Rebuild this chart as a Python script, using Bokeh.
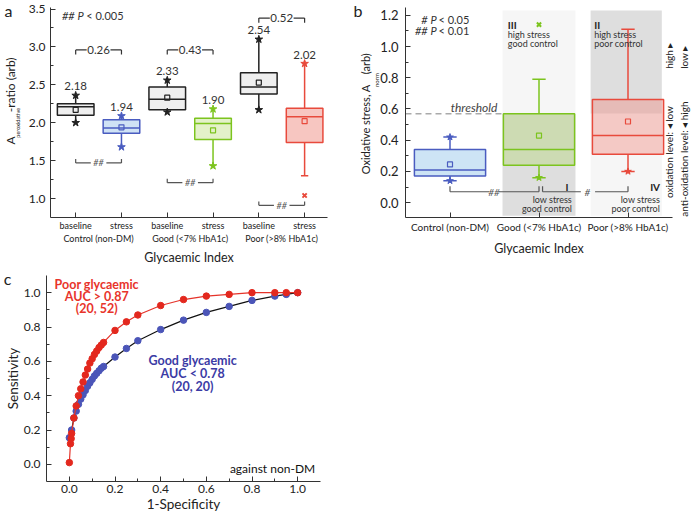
import math
from bokeh.plotting import figure
from bokeh.models import Range1d, LinearAxis, FixedTicker, PrintfTickFormatter
from bokeh.layouts import column, row
from bokeh.embed import file_html
from bokeh.resources import INLINE
from bokeh.core.properties import value

FONT = "Lato"
TXT = "#222222"
AX = "#333333"

# ---------------- panel a data ----------------
a_groups = ["Control (non-DM)", "Good (<7% HbA1c)", "Poor (>8% HbA1c)"]
a_conditions = ["baseline", "stress", "baseline", "stress", "baseline", "stress"]
a_q1 = [2.10, 1.86, 2.17, 1.78, 2.38, 1.74]
a_median = [2.21, 1.93, 2.31, 1.99, 2.47, 2.08]
a_q3 = [2.25, 2.04, 2.47, 2.06, 2.66, 2.19]
a_mean = [2.17, 1.94, 2.33, 1.90, 2.53, 2.02]
a_low = [2.00, 1.68, 2.14, 1.43, 2.17, 1.30]
a_high = [2.36, 2.09, 2.56, 2.18, 3.10, 2.78]
a_mean_labels = ["2.18", "1.94", "2.33", "1.90", "2.54", "2.02"]
a_outlier_box = [6]
a_outlier_val = [1.04]
a_pvalues = ["0.26", "0.43", "0.52"]
a_pvalue_y = [2.96, 2.96, 3.38]
a_sig_y = [1.47, 1.21, 0.91]
a_yticks = [1.0, 1.5, 2.0, 2.5, 3.0, 3.5]

# ---------------- panel b data ----------------
b_groups = ["Control (non-DM)", "Good (<7% HbA1c)", "Poor (>8% HbA1c)"]
b_q1 = [0.17, 0.24, 0.31]
b_median = [0.21, 0.34, 0.43]
b_q3 = [0.34, 0.57, 0.66]
b_mean = [0.245, 0.43, 0.52]
b_low = [0.14, 0.16, 0.20]
b_high = [0.42, 0.79, 1.11]
b_outlier_box = [2]
b_outlier_val = [1.14]
b_threshold = 0.57
b_yticks = [0.0, 0.2, 0.4, 0.6, 0.8, 1.0, 1.2]

# ---------------- panel c data ----------------
roc_fpr_poor = [0.0, 0.005, 0.008, 0.01, 0.02, 0.03, 0.04, 0.05, 0.06, 0.07, 0.08, 0.09, 0.10,
                0.11, 0.12, 0.13, 0.14, 0.15, 0.2, 0.25, 0.3, 0.4, 0.5, 0.6, 0.7, 0.8, 0.9, 0.95, 1.0]
roc_tpr_poor = [0.01, 0.12, 0.15, 0.18, 0.27, 0.34, 0.40, 0.44, 0.48, 0.52, 0.555, 0.59, 0.615,
                0.64, 0.66, 0.68, 0.695, 0.71, 0.78, 0.83, 0.87, 0.925, 0.96, 0.98, 0.99, 1.0, 1.0, 1.0, 1.0]
roc_fpr_good = [0.0, 0.01, 0.02, 0.03, 0.04, 0.05, 0.06, 0.07, 0.08, 0.09, 0.10, 0.11, 0.12, 0.13,
                0.14, 0.15, 0.2, 0.25, 0.3, 0.4, 0.5, 0.6, 0.7, 0.8, 0.9, 0.95, 1.0]
roc_tpr_good = [0.155, 0.20, 0.27, 0.31, 0.35, 0.38, 0.405, 0.43, 0.455, 0.475, 0.495, 0.515, 0.53,
                0.545, 0.56, 0.57, 0.625, 0.675, 0.72, 0.785, 0.84, 0.885, 0.92, 0.955, 0.98, 0.99, 1.0]
c_ticks = [0.0, 0.2, 0.4, 0.6, 0.8, 1.0]


def style_axis(ax, size="12px"):
    ax.axis_line_color = AX
    ax.axis_line_width = 1
    ax.major_tick_in = 5
    ax.major_tick_out = 0
    ax.minor_tick_in = 3
    ax.minor_tick_out = 0
    ax.major_tick_line_color = AX
    ax.minor_tick_line_color = AX
    ax.major_label_text_font = FONT
    ax.major_label_text_font_size = size
    ax.major_label_text_color = TXT
    ax.axis_label_text_font = FONT
    ax.axis_label_text_font_style = "normal"
    ax.axis_label_text_font_size = "12.5px"
    ax.axis_label_text_color = TXT


def text_axis(p, side, ticks, labels, size, standoff, orientation, style="normal", color=TXT):
    """An axis used only to carry text outside the frame (no line, no ticks)."""
    ax = LinearAxis(ticker=FixedTicker(ticks=ticks, minor_ticks=[]),
                    major_label_overrides={t: s for t, s in zip(ticks, labels)})
    ax.axis_line_color = None
    ax.major_tick_line_color = None
    ax.minor_tick_line_color = None
    ax.major_tick_in = 0
    ax.major_tick_out = 0
    ax.minor_tick_in = 0
    ax.minor_tick_out = 0
    ax.major_label_text_font = FONT
    ax.major_label_text_font_size = size
    ax.major_label_text_font_style = style
    ax.major_label_text_color = color
    ax.major_label_standoff = standoff
    ax.major_label_orientation = orientation
    p.add_layout(ax, side)
    return ax


def base_fig(**kw):
    p = figure(output_backend="svg", toolbar_location=None, **kw)
    p.outline_line_color = None
    p.xgrid.visible = False
    p.ygrid.visible = False
    p.background_fill_color = "white"
    p.border_fill_color = "white"
    return p


def txt(p, x, y, s, size="11px", color=TXT, align="left", baseline="middle", style="normal"):
    p.text(x=[x], y=[y], text=[s], text_font=value(FONT), text_font_size=size, text_color=color,
           text_align=align, text_baseline=baseline, text_font_style=style)


def minor_between(ticks):
    return [(ticks[i] + ticks[i + 1]) / 2 for i in range(len(ticks) - 1)]


TOP_H = 267

# =============== panel a ===============
pa = base_fig(width=350, height=TOP_H, x_range=Range1d(0.45, 6.5), y_range=Range1d(0.75, 3.52),
              x_axis_type=None, min_border_left=40, min_border_right=23, min_border_top=7,
              min_border_bottom=0)
style_axis(pa.yaxis[0], "12px")
pa.yaxis[0].ticker = FixedTicker(ticks=a_yticks, minor_ticks=minor_between(a_yticks))
pa.yaxis[0].formatter = PrintfTickFormatter(format="%.1f")
pa.yaxis[0].major_label_standoff = 5

a_pos = list(range(1, len(a_conditions) + 1))
ax1 = LinearAxis(ticker=FixedTicker(ticks=a_pos, minor_ticks=[]),
                 major_label_overrides={i: c for i, c in zip(a_pos, a_conditions)})
style_axis(ax1, "9px")
ax1.major_label_standoff = 2
pa.add_layout(ax1, "below")
g_pos = [1.5, 3.5, 5.5]
ax2 = LinearAxis(ticker=FixedTicker(ticks=g_pos, minor_ticks=[]),
                 major_label_overrides={g: n for g, n in zip(g_pos, a_groups)},
                 axis_label="Glycaemic Index")
style_axis(ax2, "9px")
ax2.axis_line_color = None
ax2.major_tick_line_color = None
ax2.minor_tick_line_color = None
ax2.major_label_standoff = -1
ax2.axis_label_standoff = 3
pa.add_layout(ax2, "below")

text_axis(pa, "left", [2.0], ["peroxidative"], "5.5px", 4, "vertical")
text_axis(pa, "left", [1.767, 2.5], ["A", "-ratio (arb)"], "12px", -6, "vertical")
text_axis(pa, "left", [3.5], ["a"], "16px", -12, "horizontal")

a_edge = ["#222222", "#4a5cc0", "#222222", "#7cc41e", "#222222", "#e84a3c"]
a_fill = ["#efefef", "#cfe2f5", "#efefef", "#e3f1c9", "#efefef", "#f7c6c1"]
hw = 0.4
pa.segment(x0=a_pos, y0=a_q3, x1=a_pos, y1=a_high, line_color=a_edge, line_width=1.5)
pa.segment(x0=a_pos, y0=a_low, x1=a_pos, y1=a_q1, line_color=a_edge, line_width=1.5)
pa.quad(left=[x - hw for x in a_pos], right=[x + hw for x in a_pos], bottom=a_q1, top=a_q3,
        fill_color=a_fill, line_color=a_edge, line_width=1.5)
pa.segment(x0=[x - hw for x in a_pos], y0=a_median, x1=[x + hw for x in a_pos], y1=a_median,
           line_color=a_edge, line_width=1.5)
pa.scatter(a_pos, a_mean, marker="square", size=5, fill_color=None, line_color=a_edge, line_width=1.2)
pa.scatter(a_pos, a_high, marker="star", size=8, fill_color=a_edge, line_color=a_edge)
pa.scatter(a_pos[:-1], a_low[:-1], marker="star", size=8, fill_color=a_edge[:-1], line_color=a_edge[:-1])
pa.segment(x0=[a_pos[-1] - 0.08], y0=[a_low[-1]], x1=[a_pos[-1] + 0.08], y1=[a_low[-1]],
           line_color=a_edge[-1], line_width=1.5)
pa.scatter(a_outlier_box, a_outlier_val, marker="x", size=6, line_color=a_edge[-1], line_width=2)
pa.text(x=a_pos, y=a_high, text=a_mean_labels, text_font=value(FONT), text_font_size="11.5px",
        text_color="#333333", text_align="center", text_baseline="middle", y_offset=-9)

for k in range(3):
    x0, x1 = 2 * k + 1, 2 * k + 2
    xm = (x0 + x1) / 2
    y = a_pvalue_y[k]
    g = 0.26
    pa.segment(x0=[x0, xm + g, x0, x1], y0=[y, y, y, y], x1=[xm - g, x1, x0, x1],
               y1=[y, y, y - 0.06, y - 0.06], line_color="#333333", line_width=1.2)
    txt(pa, xm, y, a_pvalues[k], size="11.5px", color="#333333", align="center")
    ys = a_sig_y[k]
    g2 = 0.17
    pa.segment(x0=[x0, xm + g2, x0, x1], y0=[ys, ys, ys, ys], x1=[xm - g2, x1, x0, x1],
               y1=[ys, ys, ys + 0.05, ys + 0.05], line_color="#555555", line_width=1.2)
    txt(pa, xm, ys, "##", size="9px", color="#555555", align="center", style="italic")

txt(pa, 0.70, 3.416, "##", size="11px", color="#333333", style="italic")
txt(pa, 1.04, 3.416, "P", size="11px", color="#333333", style="italic")
txt(pa, 1.23, 3.416, "< 0.005", size="11px", color="#333333")

# =============== panel b ===============
pb = base_fig(width=349, height=TOP_H, x_range=Range1d(0.5, 3.5), y_range=Range1d(-0.095, 1.25),
              x_axis_type=None, min_border_left=42, min_border_right=0, min_border_top=5,
              min_border_bottom=0)
style_axis(pb.yaxis[0], "13px")
pb.yaxis[0].ticker = FixedTicker(ticks=b_yticks, minor_ticks=minor_between(b_yticks))
pb.yaxis[0].formatter = PrintfTickFormatter(format="%.1f")
pb.yaxis[0].major_label_standoff = 7
b_pos = [1, 2, 3]
bx = LinearAxis(ticker=FixedTicker(ticks=b_pos, minor_ticks=[]),
                major_label_overrides={i: n for i, n in zip(b_pos, b_groups)},
                axis_label="Glycaemic Index")
style_axis(bx, "10px")
bx.major_label_standoff = 3
bx.axis_label_standoff = 5
pb.add_layout(bx, "below")

text_axis(pb, "left", [0.785], ["norm"], "6px", -3, "vertical")
text_axis(pb, "left", [0.47, 0.89], ["Oxidative stress, A", "(arb)"], "11px", -2, "vertical")
text_axis(pb, "left", [1.23], ["b"], "16px", -6, "horizontal")
text_axis(pb, "right", [0.03, 0.857], ["oxidation level: \u25c2 low", "high \u25b8"], "10px", -3,
          math.pi / 2)
text_axis(pb, "right", [-0.09, 0.857], ["anti-oxidation level: \u25c2 high", "low \u25b8"], "10px", 0,
          math.pi / 2)

light, dark = "#f6f6f6", "#dedede"
rtop, rbot = 1.23, -0.083
pb.quad(left=[1.59, 1.59, 2.58, 2.58], right=[2.41, 2.41, 3.38, 3.38],
        bottom=[b_threshold, rbot, b_threshold, rbot], top=[rtop, b_threshold, rtop, b_threshold],
        fill_color=[light, dark, dark, light], line_color=None)
pb.segment(x0=[0.5], y0=[b_threshold], x1=[1.59], y1=[b_threshold], line_color="#aaaaaa",
           line_width=1.5, line_dash="6 4")
txt(pb, 1.27, b_threshold + 0.04, "threshold", size="12px", color="#444444", align="center",
    style="italic")

b_edge = ["#4a5cc0", "#7cc41e", "#e84a3c"]
b_fill = ["#cde4f5", "#a9d35c", "#f08a80"]
b_alpha = [1.0, 0.33, 0.42]
pb.segment(x0=b_pos, y0=b_q3, x1=b_pos, y1=b_high, line_color=b_edge, line_width=1.5)
pb.segment(x0=b_pos, y0=b_low, x1=b_pos, y1=b_q1, line_color=b_edge, line_width=1.5)
pb.quad(left=[x - hw for x in b_pos], right=[x + hw for x in b_pos], bottom=b_q1, top=b_q3,
        fill_color=b_fill, fill_alpha=b_alpha, line_color=b_edge, line_width=1.5)
pb.segment(x0=[x - hw for x in b_pos], y0=b_median, x1=[x + hw for x in b_pos], y1=b_median,
           line_color=b_edge, line_width=1.5)
pb.scatter(b_pos, b_mean, marker="square", size=5, fill_color=None, line_color=b_edge, line_width=1.2)
cw = 0.075
pb.segment(x0=[x - cw for x in b_pos] * 2, y0=b_high + b_low, x1=[x + cw for x in b_pos] * 2,
           y1=b_high + b_low, line_color=b_edge * 2, line_width=1.5)
pb.scatter([1, 1, 2, 3], [b_high[0], b_low[0], b_low[1], b_low[2]], marker="star", size=7,
           fill_color=[b_edge[0], b_edge[0], b_edge[1], b_edge[2]],
           line_color=[b_edge[0], b_edge[0], b_edge[1], b_edge[2]])
pb.scatter(b_outlier_box, b_outlier_val, marker="x", size=6, line_color=b_edge[1], line_width=2)

ys = 0.07
pb.segment(x0=[1.0, 1.55, 1.0, 2.0], y0=[ys] * 4, x1=[1.44, 2.0, 1.0, 2.0],
           y1=[ys, ys, ys + 0.035, ys + 0.035], line_color="#555555", line_width=1.2)
txt(pb, 1.495, ys, "##", size="10px", color="#555555", align="center", style="italic")
pb.segment(x0=[2.04, 2.63, 2.04, 3.0], y0=[ys] * 4, x1=[2.47, 3.0, 2.04, 3.0],
           y1=[ys, ys, ys + 0.035, ys + 0.035], line_color="#555555", line_width=1.2)
txt(pb, 2.545, ys, "#", size="10px", color="#555555", align="center", style="italic")

txt(pb, 1.65, 1.14, "III", size="10px", color="#222222", style="bold")
txt(pb, 1.65, 1.08, "high stress", size="9px", color="#333333")
txt(pb, 1.65, 1.02, "good control", size="9px", color="#333333")
txt(pb, 2.62, 1.14, "II", size="10px", color="#222222", style="bold")
txt(pb, 2.62, 1.08, "high stress", size="9px", color="#333333")
txt(pb, 2.62, 1.02, "poor control", size="9px", color="#333333")
txt(pb, 2.33, 0.10, "I", size="10px", color="#222222", align="right", style="bold")
txt(pb, 2.37, 0.02, "low stress", size="9px", color="#333333", align="right")
txt(pb, 2.37, -0.04, "good control", size="9px", color="#333333", align="right")
txt(pb, 3.36, 0.10, "IV", size="10px", color="#222222", align="right", style="bold")
txt(pb, 3.36, 0.02, "low stress", size="9px", color="#333333", align="right")
txt(pb, 3.36, -0.04, "poor control", size="9px", color="#333333", align="right")

txt(pb, 0.75, 1.17, "#", size="11px", color="#333333", align="right", style="italic")
txt(pb, 0.78, 1.17, "P", size="11px", color="#333333", style="italic")
txt(pb, 0.87, 1.17, "< 0.05", size="11px", color="#333333")
txt(pb, 0.75, 1.10, "##", size="11px", color="#333333", align="right", style="italic")
txt(pb, 0.78, 1.10, "P", size="11px", color="#333333", style="italic")
txt(pb, 0.87, 1.10, "< 0.01", size="11px", color="#333333")

# =============== panel c ===============
pc = base_fig(width=350, height=514 - TOP_H, x_range=Range1d(-0.1, 1.1), y_range=Range1d(-0.1, 1.1),
              min_border_left=42, min_border_right=30, min_border_top=8, min_border_bottom=0)
for ax in pc.axis:
    style_axis(ax, "12px")
    ax.ticker = FixedTicker(ticks=c_ticks, minor_ticks=minor_between(c_ticks))
    ax.formatter = PrintfTickFormatter(format="%.1f")
    ax.axis_label_text_font_size = "13.5px"
    ax.axis_label_standoff = 0
pc.xaxis[0].major_label_standoff = 3
pc.yaxis[0].major_label_standoff = 6
pc.xaxis[0].axis_label = "1-Specificity"
pc.yaxis[0].axis_label = "Sensitivity"
text_axis(pc, "left", [1.1], ["c"], "16px", -10, "horizontal")

pc.line(roc_fpr_good, roc_tpr_good, line_color="#111111", line_width=1.2)
pc.scatter(roc_fpr_good, roc_tpr_good, size=6.5, fill_color="#4b55b8", line_color="#4b55b8")
pc.line(roc_fpr_poor, roc_tpr_poor, line_color="#e5332a", line_width=1.2)
pc.scatter(roc_fpr_poor, roc_tpr_poor, size=6.5, fill_color="#e3281e", line_color="#e3281e")

red_t = "#e8342b"
blue_t = "#3b3ba5"
txt(pc, 0.12, 1.047, "Poor glycaemic", size="12.5px", color=red_t, align="center", style="bold")
txt(pc, 0.12, 0.976, "AUC > 0.87", size="12.5px", color=red_t, align="center", style="bold")
txt(pc, 0.12, 0.905, "(20, 52)", size="12.5px", color=red_t, align="center", style="bold")
txt(pc, 0.54, 0.606, "Good glycaemic", size="12.5px", color=blue_t, align="center", style="bold")
txt(pc, 0.54, 0.53, "AUC < 0.78", size="12.5px", color=blue_t, align="center", style="bold")
txt(pc, 0.54, 0.455, "(20, 20)", size="12.5px", color=blue_t, align="center", style="bold")
txt(pc, 1.09, -0.025, "against  non-DM", size="12px", color="#111111", align="right")

layout = column(row(pa, pb), pc)
open("out.html", "w").write(file_html(layout, INLINE))
